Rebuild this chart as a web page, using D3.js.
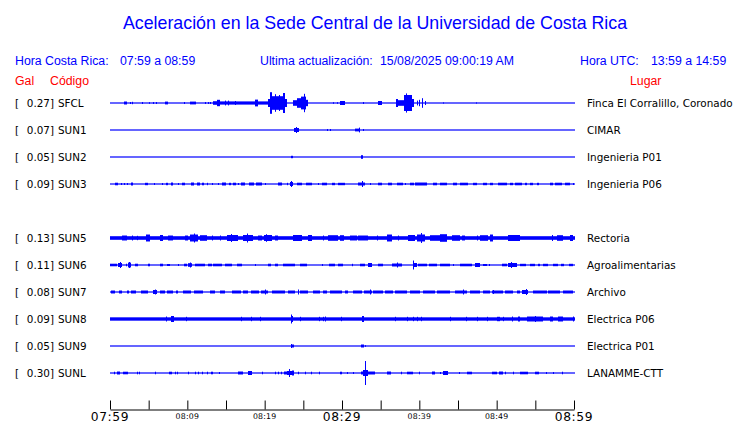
<!DOCTYPE html>
<html lang="es">
<head>
<meta charset="utf-8">
<title>Aceleración en la Sede Central</title>
<script type="text/javascript" src="https://cdn.jsdelivr.net/npm/d3@7"></script>
<style>
  body { margin: 0; background: #fff; }
</style>
</head>
<body>
<script type="text/javascript">
    // estaciones (la fila vacia es un canal sin datos)
    var codes = ["SFCL", "SUN1", "SUN2", "SUN3", "", "SUN5", "SUN6", "SUN7", "SUN8", "SUN9", "SUNL"];
    var places = ["Finca El Corralillo, Coronado", "CIMAR", "Ingenieria P01", "Ingenieria P06", "",
                  "Rectoria", "Agroalimentarias", "Archivo", "Electrica P06", "Electrica P01", "LANAMME-CTT"];
    var peaks = [0.27, 0.07, 0.05, 0.09, null, 0.13, 0.11, 0.08, 0.09, 0.05, 0.30];
    // ruido de fondo (gal, media amplitud)
    var noise = [0.012, 0.012, 0.012, 0.012, 0, 0.045, 0.012, 0.012, 0.042, 0.012, 0.012];

    // rafagas: [minuto inicio, minuto fin, media amplitud en gal], minutos desde las 07:59
    var burstsSFCL = [[1.8,2.2,0.037],[2.6,2.6,0.025],[2.9,2.9,0.03],[4.1,4.1,0.025],[5.0,5.0,0.02],[5.6,5.6,0.025],
        [5.9,5.9,0.025],[7.1,7.5,0.035],[9.6,9.6,0.025],[10.3,11.1,0.035],[12.3,12.3,0.025],[12.7,12.7,0.025],
        [12.9,12.9,0.025],[13.3,13.8,0.045],[13.8,14.2,0.08],[14.2,20.4,0.04],[14.9,14.9,0.06],[15.3,15.3,0.06],
        [16.2,16.2,0.05],[18.7,19.1,0.085],[20.4,20.7,0.1],[20.7,20.95,0.27],[20.95,22.4,0.17],[21.3,21.3,0.22],
        [21.9,21.9,0.2],[22.4,22.6,0.25],[22.6,22.9,0.1],[23.7,24.2,0.07],[24.2,24.7,0.12],[24.7,25.35,0.16],
        [25.1,25.1,0.23],[25.35,25.6,0.08],[28.8,28.8,0.02],[29.35,29.35,0.02],[29.7,30.4,0.05],[32.7,32.7,0.025],
        [34.7,35.2,0.05],[37.0,37.25,0.1],[37.25,38.0,0.07],[38.0,39.05,0.2],[38.3,38.3,0.24],[39.05,39.3,0.1],
        [39.7,39.7,0.06],[39.95,39.95,0.08],[40.35,40.35,0.12],[40.7,40.7,0.05],[43.1,43.1,0.015],[47.3,47.3,0.015]];
    var burstsSUN1 = [[23.8,24.4,0.05],[24.1,24.1,0.075],[28.05,28.05,0.025],[28.45,28.45,0.025],[31.7,32.3,0.035],
        [32.2,32.2,0.06],[32.7,32.7,0.025]];
    var burstsSUN2 = [[23.4,23.65,0.03],[32.45,32.7,0.045]];
    var burstsSUN3 = [[0.65,1.0,0.032],[1.4,1.4,0.025],[1.8,1.8,0.025],[2.2,2.2,0.025],[2.7,3.0,0.037],[4.5,4.9,0.03],
        [5.7,5.7,0.025],[6.7,6.7,0.025],[7.25,7.5,0.03],[7.9,8.15,0.037],[8.8,8.8,0.025],[9.3,9.7,0.032],
        [10.45,10.85,0.037],[11.25,11.65,0.037],[11.9,12.15,0.032],[12.55,12.7,0.03],[13.2,13.2,0.025],
        [13.95,13.95,0.025],[14.5,15.0,0.037],[15.4,15.65,0.03],[15.9,16.3,0.032],[16.55,16.55,0.025],
        [16.95,17.45,0.037],[17.95,18.6,0.037],[18.9,19.65,0.037],[20.05,20.05,0.025],[21.7,22.25,0.037],
        [22.9,23.0,0.03],[23.25,23.65,0.05],[23.4,23.4,0.075],[24.2,24.85,0.032],[25.35,26.1,0.032],
        [26.9,26.9,0.025],[27.4,28.05,0.032],[28.7,29.1,0.03],[29.5,30.4,0.03],[32.05,32.95,0.037],
        [32.6,32.6,0.075],[33.6,33.6,0.025],[34.65,35.15,0.032],[35.95,36.45,0.032],[37.1,37.9,0.032],
        [38.15,38.15,0.025],[38.8,39.3,0.032],[39.45,41.0,0.037],[41.75,42.3,0.032],[42.65,43.55,0.032],
        [44.35,44.85,0.032],[45.25,46.3,0.032],[46.95,47.45,0.03],[48.25,48.75,0.03],[49.15,49.5,0.03],
        [50.15,51.35,0.032],[51.7,52.1,0.03],[52.35,53.25,0.032],[53.65,53.9,0.03],[54.3,54.7,0.03],
        [55.2,55.45,0.03],[56.9,57.3,0.032],[57.55,58.45,0.032],[58.85,59.5,0.032],[59.85,59.85,0.025]];
    var burstsSUN5 = [[1.55,2.2,0.062],[2.85,2.85,0.062],[3.5,3.5,0.055],[4.65,5.15,0.087],[6.45,6.85,0.075],
        [7.5,8.15,0.062],[9.7,10.1,0.062],[10.35,11.4,0.087],[10.85,10.85,0.112],[11.65,12.55,0.07],
        [13.2,13.2,0.062],[14.2,14.2,0.062],[15.15,16.55,0.075],[15.65,15.65,0.1],[17.2,18.5,0.075],
        [17.7,17.7,0.112],[19.15,19.65,0.062],[19.9,20.95,0.075],[20.15,20.15,0.095],[21.35,21.7,0.062],
        [23.65,24.85,0.075],[25.6,26.1,0.075],[27.55,27.55,0.062],[28.2,29.5,0.07],[29.75,30.25,0.07],
        [31.05,31.95,0.062],[32.05,33.35,0.062],[34.5,34.5,0.062],[35.8,36.45,0.087],[37.25,37.25,0.062],
        [38.55,39.45,0.075],[39.7,40.75,0.087],[40.2,40.2,0.125],[41.4,42.65,0.07],[42.65,43.55,0.095],
        [44.2,45.25,0.07],[45.5,45.9,0.062],[47.45,47.45,0.062],[47.85,48.9,0.07],[49.15,49.5,0.087],
        [51.45,53.0,0.075],[57.15,57.15,0.075],[57.8,58.55,0.07],[59.5,59.85,0.075]];
    var burstsSUN6 = [[0,0.9,0.032],[1.05,1.55,0.05],[1.3,1.3,0.075],[2.05,2.05,0.032],[2.35,2.7,0.06],
        [2.5,2.5,0.075],[3.25,3.6,0.032],[4.9,5.15,0.032],[6.45,6.85,0.032],[7.35,7.75,0.025],[8.8,8.8,0.025],
        [9.55,9.95,0.032],[10.1,10.6,0.045],[10.35,10.35,0.062],[11.0,12.3,0.032],[12.65,13.2,0.032],
        [13.3,14.5,0.032],[14.85,15.75,0.032],[16.4,17.05,0.032],[18.75,18.75,0.025],[20.45,20.8,0.032],
        [21.35,21.7,0.032],[22.35,23.9,0.032],[24.55,25.45,0.032],[27.4,27.4,0.025],[28.3,29.1,0.032],
        [29.5,30.15,0.032],[31.3,31.4,0.03],[32.35,32.95,0.032],[33.35,33.9,0.05],[34.65,35.3,0.032],
        [36.45,37.75,0.037],[37.1,37.1,0.062],[39.2,39.7,0.05],[39.2,39.2,0.112],[39.85,41.0,0.032],
        [41.25,42.3,0.032],[42.65,43.95,0.032],[44.35,44.35,0.025],[45.25,46.8,0.032],[47.2,47.85,0.05],
        [48.25,48.75,0.025],[49.0,49.0,0.025],[50.7,51.35,0.032],[51.45,52.6,0.05],[51.85,51.85,0.075],
        [53.0,53.8,0.03],[54.3,55.0,0.03],[55.4,55.6,0.03],[56.0,56.6,0.03],[57.3,57.9,0.03],[58.3,58.7,0.03],
        [59.3,59.85,0.03]];
    var burstsSUN7 = [[0.15,0.65,0.037],[1.15,1.55,0.037],[2.2,2.45,0.037],[2.7,3.35,0.037],[4.0,4.9,0.037],
        [5.55,6.1,0.05],[5.8,5.8,0.062],[6.45,7.1,0.037],[7.35,8.15,0.037],[8.55,8.8,0.037],[9.45,10.5,0.037],
        [10.8,11.9,0.037],[12.95,13.6,0.037],[14.2,14.85,0.037],[15.75,16.9,0.037],[17.2,17.85,0.037],
        [18.25,19.3,0.037],[19.5,20.45,0.037],[20.05,20.05,0.062],[20.95,22.65,0.037],[23.0,23.9,0.037],
        [24.3,24.3,0.062],[24.55,25.6,0.037],[26.25,27.15,0.037],[27.55,28.05,0.037],[28.45,30.0,0.037],
        [30.4,30.75,0.037],[31.4,32.6,0.037],[32.9,33.9,0.037],[33.6,33.6,0.062],[34.0,35.3,0.037],
        [35.6,36.6,0.037],[36.85,38.4,0.037],[38.8,40.1,0.037],[40.45,42.0,0.037],[42.3,43.95,0.037],
        [44.6,46.2,0.037],[46.5,47.85,0.037],[45.65,45.65,0.062],[48.25,49.15,0.037],[49.4,50.8,0.037],
        [51.1,52.1,0.037],[49.5,49.5,0.05],[52.6,53.0,0.037],[53.25,54.05,0.05],[53.8,53.8,0.075],
        [54.7,56.5,0.037],[56.65,58.2,0.037],[58.55,59.85,0.037]];
    var burstsSUN8 = [[7.25,7.25,0.062],[7.9,8.25,0.075],[9.85,9.85,0.055],[16.95,16.95,0.055],[18.25,18.25,0.055],
        [19.4,19.4,0.055],[23.4,23.4,0.112],[23.4,23.65,0.075],[24.55,24.55,0.055],[27.0,27.0,0.055],
        [27.55,27.55,0.055],[27.8,27.8,0.062],[29.85,29.85,0.055],[32.55,32.85,0.075],[36.85,36.85,0.055],
        [38.4,38.4,0.055],[39.2,39.2,0.055],[39.7,39.7,0.055],[40.2,40.2,0.055],[43.95,43.95,0.055],
        [46.05,46.05,0.055],[47.45,47.45,0.055],[48.75,48.75,0.055],[50.05,50.45,0.055],[50.8,50.8,0.055],
        [52.0,52.1,0.062],[52.75,53.0,0.062],[53.9,56.0,0.062],[54.95,54.95,0.075],[56.9,57.3,0.062],
        [57.9,58.55,0.062],[59.85,59.85,0.062]];
    var burstsSUN9 = [[23.4,23.8,0.037],[23.45,23.45,0.05],[32.45,32.85,0.037],[32.95,32.95,0.02]];
    var burstsSUNL = [[0.5,0.5,0.032],[0.9,1.3,0.037],[1.7,2.35,0.032],[3.5,3.5,0.032],[3.75,3.75,0.032],
        [5.8,5.8,0.032],[7.65,8.0,0.032],[8.4,8.4,0.032],[8.65,8.65,0.032],[10.1,10.1,0.032],[11.0,11.0,0.032],
        [11.4,11.4,0.032],[11.9,11.9,0.032],[12.55,12.55,0.032],[13.05,13.3,0.032],[14.1,14.1,0.025],
        [16.55,17.2,0.037],[17.85,18.35,0.05],[19.65,19.65,0.032],[21.35,21.35,0.032],[21.7,21.7,0.032],
        [22.1,22.1,0.032],[22.5,22.9,0.037],[22.9,23.55,0.05],[23.15,23.15,0.1],[23.55,23.8,0.062],
        [24.3,24.3,0.032],[25.2,25.2,0.032],[26.0,26.0,0.032],[27.0,27.0,0.032],[29.75,30.0,0.032],
        [30.65,30.65,0.025],[31.4,31.4,0.025],[32.45,32.7,0.037],[32.7,33.35,0.075],[33.0,33.0,0.3],
        [33.35,34.25,0.037],[35.8,36.35,0.037],[37.65,37.65,0.032],[38.4,39.2,0.032],[40.0,40.0,0.032],
        [41.65,42.0,0.037],[42.65,42.65,0.025],[43.05,43.7,0.05],[45.1,45.1,0.025],[46.15,46.8,0.032],
        [49.4,50.05,0.032],[50.3,50.8,0.037],[51.1,51.1,0.032],[52.1,52.1,0.032],[53.0,54.05,0.032],
        [54.95,55.45,0.032],[56.35,56.35,0.025],[57.3,57.3,0.025],[58.45,58.55,0.032]];
    var bursts = [burstsSFCL, burstsSUN1, burstsSUN2, burstsSUN3, [], burstsSUN5, burstsSUN6,
                  burstsSUN7, burstsSUN8, burstsSUN9, burstsSUNL];

    // eje de tiempo
    var tickMinutes = [0, 5, 10, 15, 20, 25, 30, 35, 40, 45, 50, 55, 60];
    var labelMinutes = [0, 10, 20, 30, 40, 50, 60];
    var majorMinutes = [0, 30, 60];

    var width = 740;
    var height = 423;
    var blue = "#0000ff";
    var red = "#ff0000";
    var startTime = new Date(2025, 7, 15, 7, 59);

    function toTime(m) {
        return new Date(startTime.getTime() + m * 60000);
    }

    var timeScale = d3.scaleTime().domain([toTime(0), toTime(60)]).range([110, 574]);
    var rowScale = d3.scalePoint().domain(d3.range(codes.length)).range([103, 373]);
    var ampScale = d3.scaleLinear().domain([0, 0.3]).range([0, 12]);
    var fmt = d3.timeFormat("%H:%M");

    var svg = d3.select("body").append("svg")
    .attr("width", width)
    .attr("height", height)
    .style("display", "block");

    svg.append("text")
    .attr("x", 375)
    .attr("y", 29)
    .attr("text-anchor", "middle")
    .attr("font-family", "Liberation Sans, Arial, sans-serif")
    .attr("font-size", 17.8)
    .attr("fill", blue)
    .text("Aceleración en la Sede Central de la Universidad de Costa Rica");

    var header = [
        {x: 15, y: 65, t: "Hora Costa Rica:", c: blue},
        {x: 120, y: 65, t: "07:59 a 08:59", c: blue},
        {x: 260, y: 65, t: "Ultima actualización:", c: blue},
        {x: 380, y: 65, t: "15/08/2025 09:00:19 AM", c: blue},
        {x: 580, y: 65, t: "Hora UTC:", c: blue},
        {x: 651, y: 65, t: "13:59 a 14:59", c: blue},
        {x: 15, y: 85, t: "Gal", c: red},
        {x: 50, y: 85, t: "Código", c: red},
        {x: 630, y: 85, t: "Lugar", c: red}
    ];
    svg.selectAll(".header")
    .data(header)
    .enter().append("text")
    .attr("class", "header")
    .attr("x", function (d) { return d.x; })
    .attr("y", function (d) { return d.y; })
    .attr("font-family", "Liberation Sans, Arial, sans-serif")
    .attr("font-size", 12.3)
    .attr("fill", function (d) { return d.c; })
    .text(function (d) { return d.t; });

    var rows = d3.range(codes.length).filter(function (i) { return codes[i] !== ""; });

    var row = svg.selectAll(".row")
    .data(rows)
    .enter().append("g")
    .attr("class", "row")
    .attr("transform", function (i) { return "translate(0," + rowScale(i) + ")"; });

    var labelFont = "DejaVu Sans, sans-serif";
    row.append("text")
    .attr("x", 15).attr("y", 4)
    .attr("font-family", labelFont).attr("font-size", 10.4)
    .text("[");
    row.append("text")
    .attr("x", 54).attr("y", 4)
    .attr("text-anchor", "end")
    .attr("font-family", labelFont).attr("font-size", 10.4)
    .text(function (i) { return peaks[i].toFixed(2) + "]"; });
    row.append("text")
    .attr("x", 58).attr("y", 4)
    .attr("font-family", labelFont).attr("font-size", 10.4)
    .text(function (i) { return codes[i]; });
    row.append("text")
    .attr("x", 587).attr("y", 4)
    .attr("font-family", labelFont).attr("font-size", 10.4)
    .text(function (i) { return places[i]; });

    // linea base con ruido de fondo
    row.append("rect")
    .attr("x", timeScale(toTime(0)))
    .attr("width", timeScale(toTime(60)) - timeScale(toTime(0)) + 1)
    .attr("y", function (i) { return -Math.max(0.6, ampScale(noise[i])); })
    .attr("height", function (i) { return 2 * Math.max(0.6, ampScale(noise[i])); })
    .attr("fill", blue);

    // rafagas de la senal
    row.selectAll(".burst")
    .data(function (i) { return bursts[i]; })
    .enter().append("rect")
    .attr("class", "burst")
    .attr("x", function (d) { return Math.round(timeScale(toTime(d[0]))); })
    .attr("width", function (d) {
        return Math.max(1, Math.round(timeScale(toTime(d[1])) - timeScale(toTime(d[0]))));
    })
    .attr("y", function (d) { return -ampScale(d[2]); })
    .attr("height", function (d) { return 2 * ampScale(d[2]); })
    .attr("fill", blue);

    // eje
    var axis = d3.axisBottom(timeScale)
    .tickValues(tickMinutes.map(toTime))
    .tickSizeInner(-9)
    .tickSizeOuter(0)
    .tickFormat("");

    var axisG = svg.append("g")
    .attr("transform", "translate(0,409.5)")
    .call(axis);
    axisG.select(".domain").attr("stroke", "black");
    axisG.selectAll(".tick line").attr("stroke", "black");

    svg.selectAll(".tlabel")
    .data(labelMinutes)
    .enter().append("text")
    .attr("class", "tlabel")
    .attr("x", function (m) { return timeScale(toTime(m)); })
    .attr("y", function (m) { return majorMinutes.indexOf(m) >= 0 ? 421 : 418.5; })
    .attr("text-anchor", "middle")
    .attr("font-family", "DejaVu Sans, sans-serif")
    .attr("letter-spacing", function (m) { return majorMinutes.indexOf(m) >= 0 ? 0.6 : 0.2; })
    .attr("font-size", function (m) { return majorMinutes.indexOf(m) >= 0 ? 12.3 : 7.8; })
    .attr("fill", "black")
    .text(function (m) { return fmt(toTime(m)); });
</script>
</body>
</html>
